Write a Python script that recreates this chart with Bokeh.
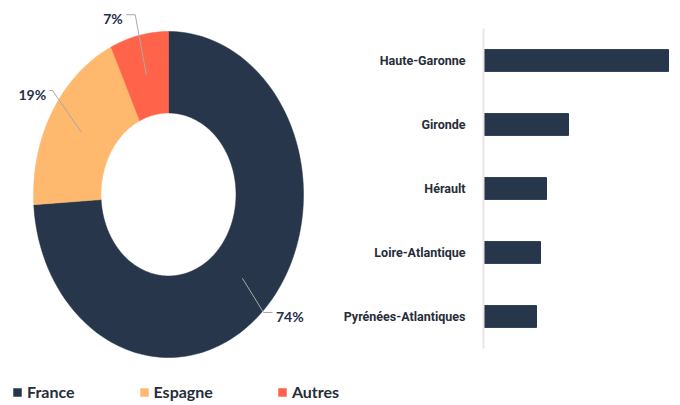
import math
from bokeh.plotting import figure
from bokeh.models import Range1d, FactorRange, Legend, LegendItem
from bokeh.layouts import row
from bokeh.embed import file_html
from bokeh.resources import INLINE
from bokeh.core.properties import value

# ---- data ----
origins = ["France", "Espagne", "Autres"]
shares = [74, 19, 7]
origin_colors = ["#27364A", "#FEB96E", "#FF634A"]

departements = ["Haute-Garonne", "Gironde", "Hérault", "Loire-Atlantique", "Pyrénées-Atlantiques"]
dep_values = [185, 85, 63, 57, 53]

DARK = "#27364A"
TEXT = "#262E3A"
LABEL = "#1F2F4D"
FONT = "Lato"
NARROW = "Roboto"

H = 405
# ---- donut ----
W1 = 340
cx_px, cy_px = 168, 194     # centre in frame pixels (from top-left)
rx_px, ry_px = 135, 163     # outer radii in px
donut = figure(width=W1, height=H, output_backend="svg", toolbar_location=None,
               x_range=Range1d(-cx_px / rx_px, (W1 - cx_px) / rx_px),
               y_range=Range1d(-(H - cy_px) / ry_px, cy_px / ry_px),
               min_border=0, outline_line_color=None, frame_align=False)
donut.axis.visible = False
donut.grid.visible = False

inner = 0.5
total = sum(shares)
cum = 0.0
renderers = []
mids = []
for name, s, c in zip(origins, shares, origin_colors):
    a0 = cum / total * 2 * math.pi
    a1 = (cum + s) / total * 2 * math.pi
    n = max(int(s * 2), 8)
    angs = [a0 + (a1 - a0) * i / n for i in range(n + 1)]
    xs = [math.sin(a) for a in angs] + [inner * math.sin(a) for a in reversed(angs)]
    ys = [math.cos(a) for a in angs] + [inner * math.cos(a) for a in reversed(angs)]
    r = donut.patch(xs, ys, fill_color=c, line_color=c, line_width=0.5)
    renderers.append((name, r))
    mids.append((a0 + a1) / 2)
    cum += s

# leader lines & labels (elbow: radius, angular shift in degrees, horizontal run)
elbow_r = [1.01, 1.07, 1.13]
elbow_shift = [2.6, 6.0, 0.0]
hseg = [0.067, 0.022, 0.067]
for s, m, er, sh, hs in zip(shares, mids, elbow_r, elbow_shift, hseg):
    sx, sy = 0.75 * math.sin(m), 0.75 * math.cos(m)
    ea = m + math.radians(sh)
    ex, ey = er * math.sin(ea), er * math.cos(ea)
    d = 1 if math.sin(m) >= 0 else -1
    hx = ex + d * hs
    donut.line([sx, ex, hx], [sy, ey, ey], line_color="#A8A8A8", line_width=1)
    donut.text([hx + d * 0.025], [ey], text=[f"{s}%"],
               text_align="left" if d > 0 else "right", text_baseline="middle",
               y_offset=4, text_font=value(FONT), text_font_style="bold",
               text_font_size="14px", text_color=LABEL)

legend = Legend(items=[LegendItem(label=n, renderers=[r]) for n, r in renderers],
                orientation="horizontal", location=(12, 4),
                glyph_width=10, glyph_height=10, label_standoff=5, spacing=64,
                padding=0, margin=0, border_line_color=None, background_fill_alpha=0,
                label_text_font=FONT, label_text_font_style="bold",
                label_text_font_size="16px", label_text_color=TEXT, label_height=14)
donut.add_layout(legend, "center")

# ---- bars ----
W2 = 340
bars = figure(width=W2, height=H, output_backend="svg", toolbar_location=None,
              y_range=FactorRange(factors=list(reversed(departements))),
              x_range=Range1d(0, 197),
              min_border_left=143, min_border_right=0, min_border_top=28,
              min_border_bottom=57, outline_line_color=None, frame_align=False)
bars.hbar(y=departements, right=dep_values, left=0, height=0.34,
          fill_color=DARK, line_color=DARK)
bars.xaxis.visible = False
bars.grid.visible = False
bars.yaxis.axis_line_color = "#E8E8E8"
bars.yaxis.axis_line_width = 2
bars.yaxis.major_tick_line_color = None
bars.yaxis.minor_tick_line_color = None
bars.yaxis.major_label_standoff = 12
bars.yaxis.major_label_text_font = NARROW
bars.yaxis.major_label_text_font_style = "bold"
bars.yaxis.major_label_text_font_size = "12.5px"
bars.yaxis.major_label_text_color = TEXT

layout = row(donut, bars)
open("out.html", "w").write(file_html(layout, INLINE))
